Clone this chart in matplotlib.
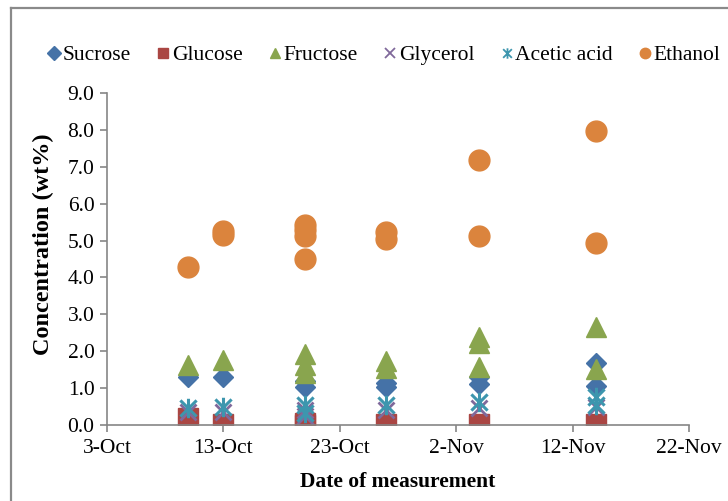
import matplotlib
matplotlib.use("Agg")
import matplotlib.pyplot as plt
import matplotlib.dates as mdates
from matplotlib.path import Path
from matplotlib.lines import Line2D
import datetime as dt

plt.rcParams['font.family'] = ['Liberation Serif', 'DejaVu Serif']

# sampling dates and measured values (several samples per date)
dates = [dt.date(2013, 10, 10), dt.date(2013, 10, 13), dt.date(2013, 10, 20),
         dt.date(2013, 10, 27), dt.date(2013, 11, 4), dt.date(2013, 11, 14)]
sucrose = [[1.30], [1.29], [1.20, 1.02], [1.15, 1.02], [1.30, 1.10], [1.68, 1.07]]
glucose = [[0.18], [0.02], [0.06, 0.0], [0.03], [0.03], [0.04]]
fructose = [[1.64], [1.76], [1.93, 1.62, 1.42], [1.74, 1.55], [2.38, 2.22, 1.57], [2.65, 1.52]]
glycerol = [[0.35], [0.35], [0.40, 0.25], [0.40], [0.45], [0.50]]
acetic = [[0.47], [0.50], [0.55, 0.32], [0.53], [0.61], [0.77, 0.55]]
ethanol = [[4.28], [5.27, 5.15], [5.42, 5.28, 5.12, 4.50], [5.22, 5.05], [7.18, 5.11], [7.98, 4.93]]

tick_dates = [dt.date(2013, 10, 3) + dt.timedelta(days=10 * i) for i in range(6)]

# Excel-like star: an X with a vertical bar
star = Path([(-1, -1), (1, 1), (-1, 1), (1, -1), (0, -1.2), (0, 1.2)],
            [Path.MOVETO, Path.LINETO, Path.MOVETO, Path.LINETO, Path.MOVETO, Path.LINETO])

fig = plt.figure(figsize=(7.28, 5.01), dpi=100)
ax = fig.add_axes([107 / 728, 1 - 425 / 501, 582 / 728, 332 / 501])

series = [
    ("Sucrose", sucrose, dict(marker='D', color='#4572A7', ms=10.5, ls='none')),
    ("Glucose", glucose, dict(marker='s', color='#AA4643', ms=14, ls='none')),
    ("Fructose", fructose, dict(marker='^', color='#89A54E', ms=15, ls='none')),
    ("Glycerol", glycerol, dict(marker='x', color='#80699B', ms=12, mew=2, ls='none')),
    ("Acetic acid", acetic, dict(marker=star, color='#3D96AE', ms=14, mew=2.2, ls='none')),
    ("Ethanol", ethanol, dict(marker='o', color='#DB843D', ms=15, ls='none')),
]

handles = []
for name, vals, style in series:
    xs = [d for d, v in zip(dates, vals) for _ in v]
    ys = [y for v in vals for y in v]
    ax.plot(xs, ys, **style)
    lg = dict(style)
    lg['ms'] = 7.5
    lg['mew'] = 1.3 if name in ("Glycerol", "Acetic acid") else 1
    handles.append(Line2D([], [], label=name, **lg))

ax.set_xlim(tick_dates[0], tick_dates[-1])
ax.set_ylim(0, 9)
ax.set_xticks(tick_dates)
ax.xaxis.set_major_formatter(mdates.DateFormatter('%-d-%b'))
ax.set_yticks([i * 1.0 for i in range(10)])
ax.yaxis.set_major_formatter(matplotlib.ticker.FormatStrFormatter('%.1f'))

for s in ['top', 'right']:
    ax.spines[s].set_visible(False)
for s in ['left', 'bottom']:
    ax.spines[s].set_color('#868686')
    ax.spines[s].set_linewidth(1.2)
ax.tick_params(colors='#868686', labelcolor='black', labelsize=15.5, length=5, width=1.2)
ax.tick_params(axis='x', pad=5)
ax.tick_params(axis='y', pad=4)

ax.set_xlabel('Date of measurement', fontsize=15.5, fontweight='bold', labelpad=10)
ax.set_ylabel('Concentration (wt%)', fontsize=17.5, fontweight='bold')
ax.yaxis.set_label_coords(-0.091, 0.545)

fig.legend(handles=handles, loc='center', bbox_to_anchor=(0.527, 1 - 55 / 501), ncol=6,
           frameon=False, fontsize=15.5, handlelength=0.7, handletextpad=0.05,
           columnspacing=1.15, borderaxespad=0)

# chart area border (top and left edges visible)
fig.add_artist(Line2D([11 / 728, 11 / 728], [0, 1 - 8 / 501], transform=fig.transFigure,
                      color='#8a8a8a', lw=1.6))
fig.add_artist(Line2D([11 / 728, 1], [1 - 8 / 501, 1 - 8 / 501], transform=fig.transFigure,
                      color='#8a8a8a', lw=1.6))

fig.savefig('out.png', dpi=100)
